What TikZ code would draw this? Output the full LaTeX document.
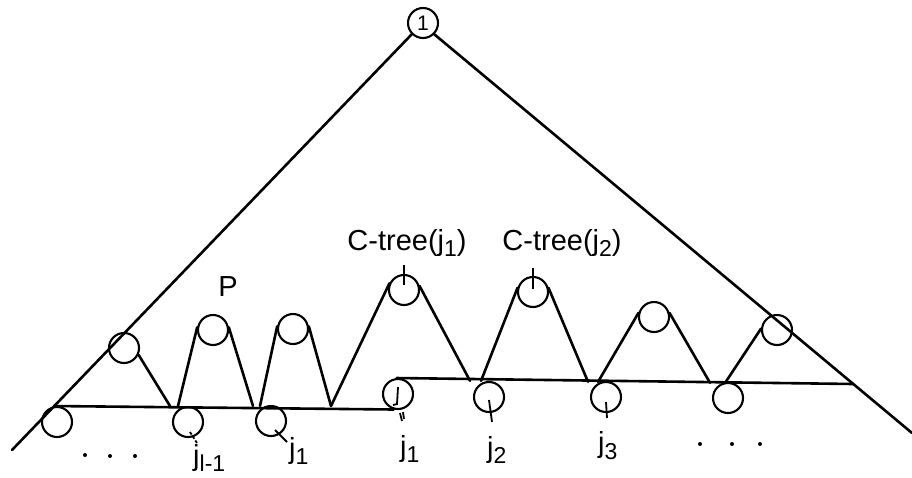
\documentclass[tikz,border=0pt]{standalone}
\usepackage{fontspec}
\setmainfont{Liberation Sans}
\usetikzlibrary{calc}
\newcommand{\sbs}[1]{\raisebox{-0.45ex}{\fontsize{23}{23}\selectfont #1}}
\tikzset{
  circ/.style={circle, draw, minimum size=30pt, inner sep=0pt, line width=2.1pt},
  edge/.style={line width=2.6pt, line cap=round},
  tick/.style={line width=1.8pt},
  lab/.style={font=\fontsize{29}{29}\selectfont, inner sep=0pt},
  dotmark/.style={circle, fill, inner sep=0pt, minimum size=4pt}
}
\begin{document}
\begin{tikzpicture}[x=1pt, y=-1pt]
\useasboundingbox (0,0) rectangle (912,477);
% root
\node[circ, font=\fontsize{21}{21}\selectfont] (r) at (423,23) {1};
\coordinate (L0) at (12,450);
\coordinate (R0) at (912,433);
% circles
\node[circ] (a1) at (124,348) {};
\node[circ] (p1) at (213,330) {};
\node[circ] (p2) at (293,329) {};
\node[circ] (p3) at (404,290) {};
\node[circ] (p4) at (533,292) {};
\node[circ] (p5) at (654,317) {};
\node[circ] (p6) at (777,330) {};
\node[circ] (b1) at (57,422) {};
\node[circ] (b2) at (188,422) {};
\node[circ] (b3) at (271,421) {};
\node[circ] (bj) at (398,394) {};
\node[circ] (b4) at (489,397) {};
\node[circ] (b5) at (606,397) {};
\node[circ] (b6) at (728,398) {};
% big edges
\draw[edge] (r.-135) -- (L0);
\draw[edge] (r.-45) -- (R0);
% horizontal lines
\coordinate (h1s) at (intersection of r.-135--L0 and 0,406--400,406);
\coordinate (h2e) at (intersection of r.-45--R0 and 400,384--912,384);
\draw[edge] (h1s) -- (bj.255);
\draw[edge] (bj.95) -- (h2e);
% points on the lines
\coordinate (k1) at (170,406);
\coordinate (k2) at (178,406);
\coordinate (k3) at (253,406);
\coordinate (k4) at (260,406);
\coordinate (k5) at (331,406);
\coordinate (m1) at (470,380.8);
\coordinate (m2) at (481,380.9);
\coordinate (m3) at (588,381.8);
\coordinate (m4) at (598,381.9);
\coordinate (m5) at (710,382.8);
\coordinate (m6) at (725,383.0);
% legs
\draw[edge] (a1.-25) -- (k1);
\draw[edge] (k2) -- (p1.170);
\draw[edge] (p1.10) -- (k3);
\draw[edge] (k4) -- (p2.170);
\draw[edge] (p2.10) -- (k5);
\draw[edge] (k5) -- (p3.155);
\draw[edge] (p3.15) -- (m1);
\draw[edge] (m2) -- (p4.165);
\draw[edge] (p4.15) -- (m3);
\draw[edge] (m4) -- (p5.165);
\draw[edge] (p5.15) -- (m5);
\draw[edge] (m6) -- (p6.175);
% labels
\node[lab] (P) at (228,287) {P};
\node[lab] (c1) at (407,243) {C-tree(j\sbs{1})};
\node[lab] (c2) at (562,243) {C-tree(j\sbs{2})};
\draw[tick] ($(p3)+(0,-25)$) coordinate (t1a) -- ($(p3)+(0,-5)$) coordinate (t1b);
\draw[tick] ($(p4)+(0,-24)$) coordinate (t2a) -- ($(p4)+(0,-3)$) coordinate (t2b);
% bottom ticks
\draw[tick, dash pattern=on 3pt off 2pt] ($(b2)+(2,10)$) coordinate (u1) -- ($(b2)+(9,21)$) coordinate (u2);
\draw[tick] ($(b3)+(4,9)$) coordinate (u3) -- ($(b3)+(16,21)$) coordinate (u4);
\draw[tick] ($(b4)+(0,3)$) coordinate (u5) -- ($(b4)+(3,25)$) coordinate (u6);
\draw[tick] ($(b5)+(0,5)$) coordinate (u7) -- ($(b5)+(1,21)$) coordinate (u8);
\draw[tick] ($(bj)+(0,-7)$) coordinate (v1) -- ($(bj)+(-1,10)$) coordinate (v2) -- ($(bj)+(-5,11)$) coordinate (v3);
\draw[tick] ($(bj)+(2,19)$) coordinate (w1) -- ($(bj)+(4,27)$) coordinate (w2);
\draw[tick] ($(bj)+(5,18)$) coordinate (w3) -- ($(bj)+(6,25)$) coordinate (w4);
% bottom labels
\node[lab, anchor=west] (jl) at (193,458) {j\sbs{l-1}};
\node[lab, anchor=west] (ja) at (289,451) {j\sbs{1}};
\node[lab, anchor=west] (jb) at (400,449) {j\sbs{1}};
\node[lab, anchor=west] (jc) at (487,450) {j\sbs{2}};
\node[lab, anchor=west] (jd) at (598,446) {j\sbs{3}};
% dots
\node[dotmark] (d1) at (85,455) {};
\node[dotmark] (d2) at (110,456) {};
\node[dotmark] (d3) at (135,456) {};
\node[dotmark] (d4) at (700,444) {};
\node[dotmark] (d5) at (732,444) {};
\node[dotmark] (d6) at (760,444) {};
\end{tikzpicture}
\end{document}
